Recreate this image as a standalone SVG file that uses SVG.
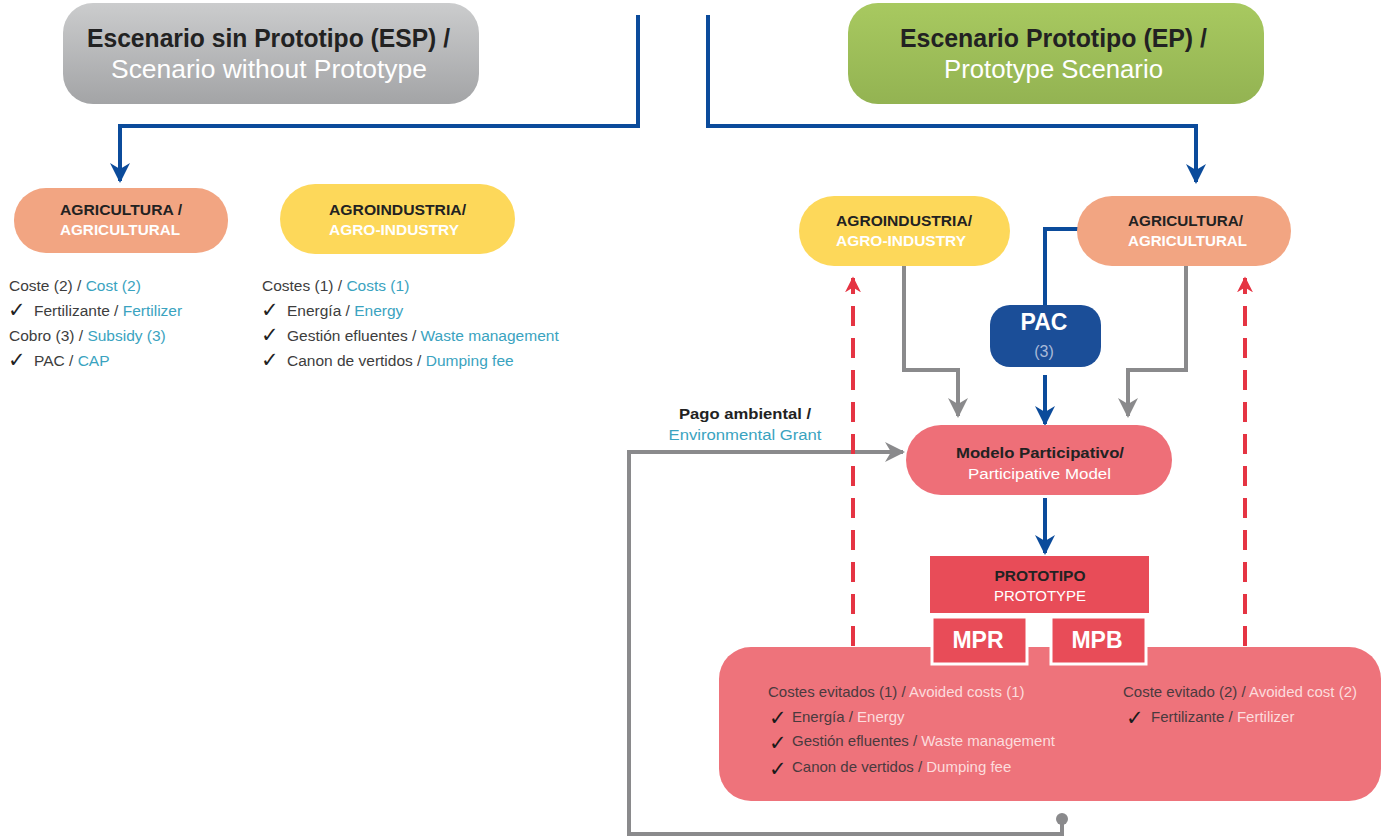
<svg xmlns="http://www.w3.org/2000/svg" width="1390" height="837" viewBox="0 0 1390 837">
<defs>
<linearGradient id="gGray" x1="0" y1="0" x2="0" y2="1"><stop offset="0" stop-color="#cbcccd"/><stop offset="1" stop-color="#a3a4a6"/></linearGradient>
<linearGradient id="gGreen" x1="0" y1="0" x2="0" y2="1"><stop offset="0" stop-color="#a8c960"/><stop offset="1" stop-color="#93b352"/></linearGradient>
<marker id="aBlue" viewBox="0 0 10 10" refX="9" refY="5" markerWidth="5" markerHeight="5" markerUnits="strokeWidth" orient="auto"><path d="M0,0 L10,5 L0,10 L3,5 z" fill="#0b4b9b"/></marker>
<marker id="aGray" viewBox="0 0 10 10" refX="9" refY="5" markerWidth="5" markerHeight="5" markerUnits="strokeWidth" orient="auto"><path d="M0,0 L10,5 L0,10 L3,5 z" fill="#8a8a8c"/></marker>
<marker id="aRed" viewBox="0 0 10 10" refX="9" refY="5" markerWidth="4" markerHeight="4" markerUnits="strokeWidth" orient="auto"><path d="M0,0 L10,5 L0,10 L3,5 z" fill="#e53443"/></marker>
</defs>
<style>
text{font-family:"Liberation Sans",Arial,sans-serif;}
.h{font-size:26px;}
.b{font-weight:bold;}
.dk{fill:#222222;}
.wh{fill:#ffffff;}
.tx{font-size:15.5px;fill:#3d3d3d;}
.tl{fill:#3aa3c0;}
.pk{font-size:15px;fill:#4a3a3e;}
.pl{fill:#fcdcdd;}
.ck{font-family:"DejaVu Sans",sans-serif;font-size:21px;font-weight:bold;}
.lb{font-size:15.5px;}
.blue{fill:none;stroke:#0b4b9b;stroke-width:4;}
.gray{fill:none;stroke:#8a8a8c;stroke-width:4;}
.red{fill:none;stroke:#e53443;stroke-width:4;stroke-dasharray:20 12;}
</style>

<g id="connectors">
<path class="blue" d="M638,15 V126 H120 V181" marker-end="url(#aBlue)"/>
<path class="blue" d="M708,15 V126 H1196 V182" marker-end="url(#aBlue)"/>
<path class="blue" d="M1079,229 H1045 V306"/>
<path class="blue" d="M1045,375 V424" marker-end="url(#aBlue)"/>
<path class="blue" d="M1045,498 V553" marker-end="url(#aBlue)"/>
<path class="gray" d="M904,266 V370 H958 V416" marker-end="url(#aGray)"/>
<path class="gray" d="M1186,266 V370 H1128 V416" marker-end="url(#aGray)"/>
<path class="gray" d="M1062,819 V834 H629 V452 H903" marker-end="url(#aGray)"/>
<circle cx="1062" cy="819" r="6" fill="#8a8a8c"/>
<path class="red" d="M853,646 V278" marker-end="url(#aRed)"/>
<path class="red" d="M1245,646 V278" marker-end="url(#aRed)"/>
</g>

<g id="esp">
<rect x="63" y="3" width="416" height="101" rx="30" fill="url(#gGray)"/>
<text class="h b dk" x="87" y="47" textLength="363" lengthAdjust="spacingAndGlyphs">Escenario sin Prototipo (ESP) /</text>
<text class="h wh" x="111" y="78" textLength="316" lengthAdjust="spacingAndGlyphs">Scenario without Prototype</text>
</g>

<g id="ep">
<rect x="848" y="3" width="416" height="101" rx="30" fill="url(#gGreen)"/>
<text class="h b dk" x="900" y="47" textLength="307" lengthAdjust="spacingAndGlyphs">Escenario Prototipo (EP) /</text>
<text class="h wh" x="944" y="78" textLength="219" lengthAdjust="spacingAndGlyphs">Prototype Scenario</text>
</g>

<g id="esp-agricultura">
<rect x="14" y="188" width="214" height="65" rx="32" fill="#f2a582"/>
<text class="lb b dk" x="60" y="215" textLength="122" lengthAdjust="spacingAndGlyphs">AGRICULTURA /</text>
<text class="lb b wh" x="60" y="235" textLength="120" lengthAdjust="spacingAndGlyphs">AGRICULTURAL</text>
</g>

<g id="esp-agroindustria">
<rect x="280" y="184" width="235" height="70" rx="35" fill="#fdd85a"/>
<text class="lb b dk" x="329" y="215" textLength="137" lengthAdjust="spacingAndGlyphs">AGROINDUSTRIA/</text>
<text class="lb b wh" x="329" y="235" textLength="130" lengthAdjust="spacingAndGlyphs">AGRO-INDUSTRY</text>
</g>

<g id="esp-agricultura-list">
<text class="tx" x="9" y="291">Coste (2) / <tspan class="tl">Cost (2)</tspan></text>
<text class="ck dk" x="8" y="317">✓</text>
<text class="tx" x="34" y="316">Fertilizante / <tspan class="tl">Fertilizer</tspan></text>
<text class="tx" x="9" y="341">Cobro (3) / <tspan class="tl">Subsidy (3)</tspan></text>
<text class="ck dk" x="8" y="367">✓</text>
<text class="tx" x="34" y="366">PAC / <tspan class="tl">CAP</tspan></text>
</g>

<g id="esp-agroindustria-list">
<text class="tx" x="262" y="291">Costes (1) / <tspan class="tl">Costs (1)</tspan></text>
<text class="ck dk" x="261" y="317">✓</text>
<text class="tx" x="287" y="316">Energía / <tspan class="tl">Energy</tspan></text>
<text class="ck dk" x="261" y="342">✓</text>
<text class="tx" x="287" y="341">Gestión efluentes / <tspan class="tl">Waste management</tspan></text>
<text class="ck dk" x="261" y="367">✓</text>
<text class="tx" x="287" y="366">Canon de vertidos / <tspan class="tl">Dumping fee</tspan></text>
</g>

<g id="ep-agroindustria">
<rect x="799" y="196" width="211" height="70" rx="35" fill="#fdd85a"/>
<text class="lb b dk" x="836" y="226" textLength="136" lengthAdjust="spacingAndGlyphs">AGROINDUSTRIA/</text>
<text class="lb b wh" x="836" y="246" textLength="130" lengthAdjust="spacingAndGlyphs">AGRO-INDUSTRY</text>
</g>

<g id="ep-agricultura">
<rect x="1077" y="196" width="214" height="70" rx="35" fill="#f2a582"/>
<text class="lb b dk" x="1128" y="226" textLength="115" lengthAdjust="spacingAndGlyphs">AGRICULTURA/</text>
<text class="lb b wh" x="1128" y="246" textLength="119" lengthAdjust="spacingAndGlyphs">AGRICULTURAL</text>
</g>

<g id="pac">
<rect x="990" y="305" width="111" height="62" rx="20" fill="#1b4e98"/>
<text class="b wh" x="1044" y="330" font-size="23" text-anchor="middle">PAC</text>
<text x="1044" y="357" font-size="16" fill="#a9bad8" text-anchor="middle">(3)</text>
</g>

<g id="pago-ambiental">
<text class="lb b dk" x="745" y="419" text-anchor="middle" textLength="132" lengthAdjust="spacingAndGlyphs">Pago ambiental /</text>
<text class="lb tl" x="745" y="440" text-anchor="middle" textLength="153" lengthAdjust="spacingAndGlyphs">Environmental Grant</text>
</g>

<g id="modelo">
<rect x="906" y="425" width="266" height="70" rx="35" fill="#ee6f78"/>
<text class="lb b dk" x="956" y="458" textLength="168" lengthAdjust="spacingAndGlyphs">Modelo Participativo/</text>
<text class="lb wh" x="968" y="479" textLength="143" lengthAdjust="spacingAndGlyphs">Participative Model</text>
</g>

<g id="resultados">
<rect x="719" y="647" width="662" height="154" rx="32" fill="#ee737b"/>
<text class="pk" x="768" y="697">Costes evitados (1) / <tspan class="pl">Avoided costs (1)</tspan></text>
<text class="ck" x="769" y="725" fill="#1a1a1a">✓</text>
<text class="pk" x="792" y="722">Energía / <tspan class="pl">Energy</tspan></text>
<text class="ck" x="769" y="750" fill="#1a1a1a">✓</text>
<text class="pk" x="792" y="746">Gestión efluentes / <tspan class="pl">Waste management</tspan></text>
<text class="ck" x="769" y="776" fill="#1a1a1a">✓</text>
<text class="pk" x="792" y="772">Canon de vertidos / <tspan class="pl">Dumping fee</tspan></text>
<text class="pk" x="1123" y="697">Coste evitado (2) / <tspan class="pl">Avoided cost (2)</tspan></text>
<text class="ck" x="1126" y="725" fill="#1a1a1a">✓</text>
<text class="pk" x="1151" y="722">Fertilizante / <tspan class="pl">Fertilizer</tspan></text>
</g>

<g id="prototipo">
<rect x="930" y="556" width="219" height="57" fill="#e84c58"/>
<text class="lb b dk" x="1040" y="581" text-anchor="middle" textLength="91" lengthAdjust="spacingAndGlyphs">PROTOTIPO</text>
<text class="lb wh" x="1040" y="601" text-anchor="middle" textLength="92" lengthAdjust="spacingAndGlyphs">PROTOTYPE</text>
</g>

<g id="mpr">
<rect x="932" y="617" width="95" height="47" fill="#e84c58" stroke="#ffffff" stroke-width="3"/>
<text class="b wh" x="978" y="648" font-size="23" text-anchor="middle">MPR</text>
</g>

<g id="mpb">
<rect x="1051" y="617" width="95" height="47" fill="#e84c58" stroke="#ffffff" stroke-width="3"/>
<text class="b wh" x="1097" y="648" font-size="23" text-anchor="middle">MPB</text>
</g>
</svg>
